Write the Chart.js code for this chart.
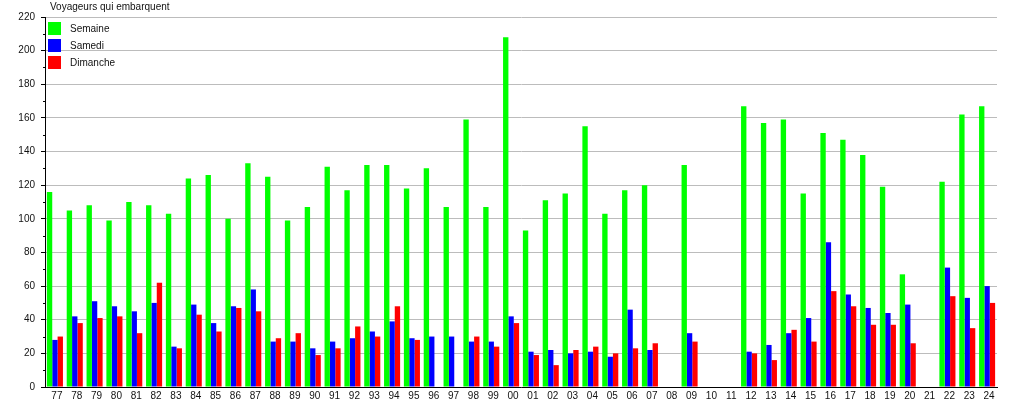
<!DOCTYPE html>
<html>
<head>
<meta charset="utf-8">
<script src="https://cdn.jsdelivr.net/npm/chart.js@4"></script>
<style>
  html, body { margin: 0; padding: 0; background: #fff; }
  #wrap { position: relative; width: 1015px; height: 400px; }
</style>
</head>
<body>
<div id="wrap"><canvas id="chart"></canvas></div>
<script>
// ── data ─────────────────────────────────────────────────────────────
var years = ['77','78','79','80','81','82','83','84','85','86','87','88','89','90','91','92',
             '93','94','95','96','97','98','99','00','01','02','03','04','05','06','07','08',
             '09','10','11','12','13','14','15','16','17','18','19','20','21','22','23','24'];

var semaine  = [116,105,108,99,110,108,103,124,126,100,133,125,99,107,131,117,
                132,132,118,130,107,159,107,208,93,111,115,155,103,117,120,null,
                132,null,null,167,157,159,115,151,147,138,119,67,null,122,162,167];

var samedi   = [28,42,51,48,45,50,24,49,38,48,58,27,27,23,27,29,
                33,39,29,30,30,27,27,42,21,22,20,21,18,46,22,null,
                32,null,null,21,25,32,41,86,55,47,44,49,null,71,53,60];

var dimanche = [30,38,41,42,32,62,23,43,33,47,45,29,32,19,23,36,
                30,48,28,null,null,30,24,38,19,13,22,24,20,23,26,null,
                27,null,null,20,16,34,27,57,48,37,37,26,null,54,35,50];

var seriesLabels = ['Semaine', 'Samedi', 'Dimanche'];
var seriesColors = ['#00ff00', '#0000ff', '#ff0000'];
var yTitle = 'Voyageurs qui embarquent';

var FONT = '"Liberation Sans", Arial, Helvetica, sans-serif';

// title, legend inside the plot and the short minor ticks on the y axis
var decorPlugin = {
    id: 'decor',
    afterDraw: function (chart) {
        var ctx = chart.ctx;
        var y = chart.scales.y;
        var left = chart.chartArea.left;
        ctx.save();

        // minor ticks every 10
        ctx.strokeStyle = '#000';
        ctx.lineWidth = 1;
        for (var v = 10; v < 220; v += 20) {
            var py = Math.round(y.getPixelForValue(v)) + 0.5;
            ctx.beginPath();
            ctx.moveTo(left - 2, py);
            ctx.lineTo(left, py);
            ctx.stroke();
        }

        ctx.font = '10px ' + FONT;
        ctx.fillStyle = '#111';
        ctx.textBaseline = 'middle';
        ctx.textAlign = 'left';
        ctx.fillText(yTitle, 50, 7);

        chart.data.datasets.forEach(function (ds, i) {
            var top = 22 + i * 17;
            ctx.fillStyle = ds.backgroundColor;
            ctx.fillRect(48, top, 13, 13);
            ctx.fillStyle = '#111';
            ctx.fillText(ds.label, 70, top + 7);
        });
        ctx.restore();
    }
};

var datasets = [semaine, samedi, dimanche].map(function (vals, i) {
    return {
        label: seriesLabels[i],
        data: vals,
        backgroundColor: seriesColors[i],
        borderWidth: 0,
        categoryPercentage: 0.81,
        barPercentage: 1.0
    };
});

new Chart(document.getElementById('chart'), {
    type: 'bar',
    data: { labels: years, datasets: datasets },
    plugins: [decorPlugin],
    options: {
        animation: false,
        responsive: true,
        maintainAspectRatio: false,
        layout: { padding: { top: 17, right: 18, left: 0, bottom: 0 } },
        plugins: {
            legend: { display: false },
            title: { display: false },
            tooltip: { enabled: false }
        },
        scales: {
            x: {
                afterFit: function (s) { s.height = 13; },
                grid: { display: false, drawOnChartArea: false, drawTicks: false },
                border: { display: true, color: '#000', width: 1 },
                ticks: {
                    color: '#111',
                    font: { family: FONT, size: 10 },
                    padding: 3,
                    maxRotation: 0,
                    autoSkip: false,
                    labelOffset: 2
                }
            },
            y: {
                min: 0,
                max: 220,
                afterFit: function (s) { s.width = 45; },
                border: { display: true, color: '#000', width: 1 },
                grid: {
                    color: function (c) {
                        if (!c.tick) return 'rgba(0,0,0,0)';
                        return c.tick.value % 20 === 0 ? '#bcbcbc' : 'rgba(0,0,0,0)';
                    },
                    tickColor: function (c) {
                        if (!c.tick) return 'rgba(0,0,0,0)';
                        return c.tick.value % 20 === 0 ? '#000' : 'rgba(0,0,0,0)';
                    },
                    tickLength: 4,
                    lineWidth: 1
                },
                ticks: {
                    stepSize: 20,
                    color: '#111',
                    padding: 6,
                    font: { family: FONT, size: 10 }
                }
            }
        }
    }
});
</script>
</body>
</html>
